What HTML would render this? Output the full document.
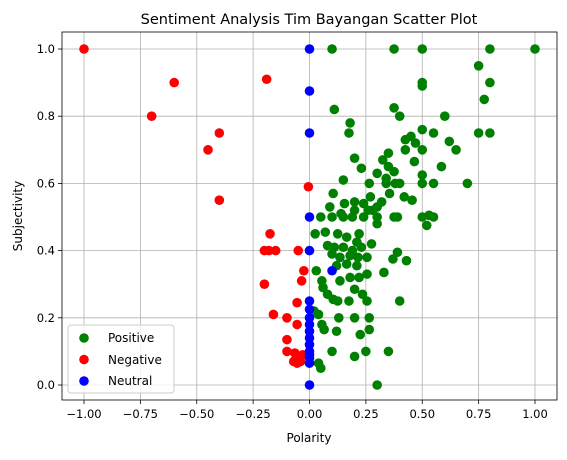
<!DOCTYPE html>
<html><head><meta charset="utf-8"><style>
body{margin:0;background:#fff;font-family:"Liberation Sans","DejaVu Sans",sans-serif}
svg text{font-family:"DejaVu Sans","Liberation Sans",sans-serif}
</style></head><body>
<svg id="chart" width="567" height="455"></svg>
<script>
const xTicks=[-1.00,-0.75,-0.50,-0.25,0.00,0.25,0.50,0.75,1.00];
const yTicks=[0.0,0.2,0.4,0.6,0.8,1.0];
const posX=[0.10,0.375,0.5,0.8,1.0,0.75,0.5,0.5,0.8,0.775,0.11,0.375,0.4,0.6,0.18,0.175,0.5,0.55,0.75,0.8,0.425,0.45,0.47,0.62,0.65,0.5,0.425,0.35,0.325,0.2,0.465,0.23,0.35,0.375,0.585,0.30,0.34,0.5,0.15,0.265,0.34,0.38,0.4,0.5,0.55,0.7,0.105,0.355,0.42,0.455,0.09,0.155,0.2,0.24,0.27,0.28,0.32,0.26,0.30,0.05,0.1,0.14,0.19,0.2,0.24,0.3,0.3,0.375,0.39,0.5,0.53,0.55,0.52,0.15,0.025,0.07,0.125,0.165,0.22,0.275,0.21,0.08,0.11,0.15,0.19,0.23,0.1,0.135,0.18,0.215,0.255,0.39,0.37,0.43,0.12,0.165,0.21,0.03,0.135,0.18,0.22,0.255,0.33,0.055,0.06,0.08,0.105,0.125,0.175,0.2,0.235,0.255,0.4,0.02,0.04,0.13,0.2,0.265,0.265,0.225,0.12,0.055,0.065,0.1,0.2,0.25,0.35,0.04,0.05,0.3];
const posY=[1.0,1.0,1.0,1.0,1.0,0.95,0.9,0.89,0.9,0.85,0.82,0.825,0.8,0.8,0.78,0.75,0.76,0.75,0.75,0.75,0.73,0.74,0.72,0.725,0.70,0.70,0.70,0.69,0.67,0.675,0.665,0.645,0.65,0.635,0.65,0.63,0.615,0.625,0.61,0.60,0.60,0.60,0.60,0.60,0.60,0.60,0.57,0.57,0.56,0.55,0.53,0.54,0.545,0.54,0.56,0.52,0.545,0.52,0.53,0.5,0.5,0.51,0.5,0.52,0.5,0.5,0.48,0.5,0.5,0.5,0.505,0.5,0.475,0.5,0.45,0.455,0.45,0.44,0.45,0.42,0.425,0.415,0.41,0.41,0.40,0.41,0.39,0.38,0.385,0.38,0.38,0.395,0.375,0.37,0.355,0.36,0.355,0.34,0.31,0.32,0.32,0.33,0.335,0.31,0.29,0.27,0.255,0.25,0.25,0.285,0.27,0.25,0.25,0.22,0.21,0.2,0.2,0.2,0.165,0.15,0.16,0.18,0.165,0.1,0.085,0.1,0.1,0.065,0.05,0.0];
const negX=[-1.0,-0.6,-0.7,-0.19,-0.4,-0.45,-0.4,-0.005,-0.175,-0.2,-0.18,-0.15,-0.05,-0.025,-0.035,-0.2,-0.055,-0.16,-0.1,-0.055,-0.1,-0.1,-0.065,-0.04,-0.07,-0.055,-0.03,-0.05];
const negY=[1.0,0.9,0.8,0.91,0.75,0.7,0.55,0.59,0.45,0.4,0.4,0.4,0.4,0.34,0.31,0.3,0.245,0.21,0.2,0.18,0.135,0.1,0.095,0.07,0.07,0.065,0.09,0.08];
const neuX=[0,0,0,0,0,0.1,0,0,0,0,0,0,0,0,0,0,0,0];
const neuY=[1.0,0.875,0.75,0.5,0.4,0.34,0.25,0.225,0.2,0.18,0.16,0.14,0.12,0.1,0.09,0.08,0.065,0.0];
const NS="http://www.w3.org/2000/svg",svg=document.getElementById('chart');
const L=62,R=557,T=32,B=400;
const xs=v=>309.5+225.5*v, ys=v=>385-336*v;
function mk(t,a,p){const e=document.createElementNS(NS,t);for(const k in a)e.setAttribute(k,a[k]);(p||svg).appendChild(e);return e;}
const grid=mk('g',{});


xTicks.forEach(v=>{const x=xs(v);
 mk('line',{x1:x,x2:x,y1:T,y2:B,stroke:'#b0b0b0','stroke-width':0.8},grid);
 mk('line',{x1:x,x2:x,y1:B,y2:B+4,stroke:'#000','stroke-width':0.8});
 const t=mk('text',{x:x,y:B+18,'text-anchor':'middle','font-size':11.5,fill:'#000'});t.textContent=v.toFixed(2).replace('-','\u2212');
 
 });
yTicks.forEach(v=>{const y=ys(v);
 mk('line',{x1:L,x2:R,y1:y,y2:y,stroke:'#b0b0b0','stroke-width':0.8},grid);
 mk('line',{x1:L-4,x2:L,y1:y,y2:y,stroke:'#000','stroke-width':0.8});
 const t=mk('text',{x:L-7,y:y+4,'text-anchor':'end','font-size':11.5,fill:'#000'});t.textContent=v.toFixed(1);
 
 });
function series(X,Y,c,name){const g=mk('g',{fill:c});
 
 
 X.forEach((v,i)=>{const p=mk('circle',{cx:xs(v),cy:ys(Y[i]),r:4.8},g);
  
  });}
series(posX,posY,'green','positive-series');
series(negX,negY,'red','negative-series');
series(neuX,neuY,'blue','neutral-series');
const fr=mk('rect',{x:L,y:T,width:R-L,height:B-T,fill:'none',stroke:'#000','stroke-width':0.8});


</script>
<svg style="position:absolute;left:0;top:0" width="567" height="455">
<text x="309" y="24" text-anchor="middle" font-size="14.5">Sentiment Analysis Tim Bayangan Scatter Plot</text>
<text x="309" y="442" text-anchor="middle" font-size="12">Polarity</text>
<text transform="translate(22,216) rotate(-90)" text-anchor="middle" font-size="12">Subjectivity</text>
<g>
<rect x="68" y="325" width="106" height="68" rx="3" fill="#fff" fill-opacity="0.8" stroke="#ccc"/>
<g><circle cx="84" cy="338" r="4.8" fill="green"/><text x="108" y="342" font-size="12">Positive</text></g>
<g><circle cx="84" cy="359.5" r="4.8" fill="red"/><text x="108" y="364" font-size="12">Negative</text></g>
<g><circle cx="84" cy="381" r="4.8" fill="blue"/><text x="108" y="385" font-size="12">Neutral</text></g>
</g>
</svg>
</body></html>
